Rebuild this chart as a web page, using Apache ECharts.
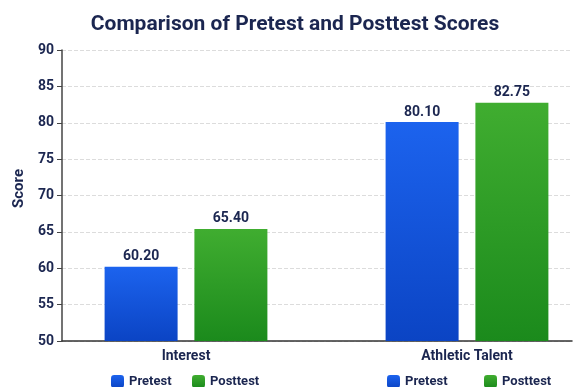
<!DOCTYPE html>
<html><head><meta charset="utf-8">
<script src="https://cdn.jsdelivr.net/npm/echarts@6/dist/echarts.min.js"></script>
<style>html,body{margin:0;padding:0;background:#fff}#c{width:574px;height:387px}</style>
</head><body><div id="c"></div>
<script>
var categories = ['Interest', 'Athletic Talent'];
var pretest = [60.20, 80.10];
var posttest = [65.40, 82.75];
var seriesNames = ['Pretest', 'Posttest'];
var yTicks = [50, 55, 60, 65, 70, 75, 80, 85, 90];

var navy = '#1b2650';
var font = 'Roboto, sans-serif';
function grad(top, bottom) {
  return new echarts.graphic.LinearGradient(0, 0, 0, 1, [{offset: 0, color: top}, {offset: 1, color: bottom}]);
}
var chart = echarts.init(document.getElementById('c'), null, {renderer: 'canvas'});
function leg(name, left) {
  return {
    data: [name], left: left, top: 370, itemWidth: 13, itemHeight: 13, itemGap: 0, icon: 'roundRect',
    selectedMode: false,
    textStyle: {color: navy, fontWeight: 'bold', fontSize: 13, fontFamily: font}
  };
}
var yMin = yTicks[0], yMax = yTicks[yTicks.length - 1];
chart.setOption({
  backgroundColor: '#fff',
  animation: false,
  title: {
    text: 'Comparison of Pretest and Posttest Scores', left: 290, top: 9, textAlign: 'center',
    textStyle: {color: navy, fontSize: 21, fontWeight: 'bold', fontFamily: font}
  },
  legend: [
    leg(seriesNames[0], 106), leg(seriesNames[1], 187),
    leg(seriesNames[0], 382), leg(seriesNames[1], 479)
  ],
  grid: [
    {left: 45.5, width: 562, top: 50, bottom: 46, outerBoundsMode: 'none', containLabel: false},
    {left: 62, right: 2, top: 50, bottom: 46, outerBoundsMode: 'none', containLabel: false}
  ],
  xAxis: [
    {
      type: 'category', data: categories, gridIndex: 0,
      axisLine: {show: false}, axisTick: {show: false},
      axisLabel: {color: navy, fontWeight: 'bold', fontSize: 14, fontFamily: font, margin: 8}
    },
    {
      type: 'value', gridIndex: 1, min: 0, max: 1,
      axisLine: {show: true, onZero: false, lineStyle: {color: '#333', width: 1.5}},
      axisTick: {show: false}, axisLabel: {show: false}, splitLine: {show: false}
    }
  ],
  yAxis: [
    {type: 'value', gridIndex: 0, min: yMin, max: yMax, interval: 5, show: false},
    {
      type: 'value', gridIndex: 1, min: yMin, max: yMax, interval: 5,
      name: 'Score', nameLocation: 'middle', nameGap: 35,
      nameTextStyle: {color: navy, fontWeight: 'bold', fontSize: 15, fontFamily: font, padding: [0, 0, 0, 14]},
      axisLine: {show: true, lineStyle: {color: '#444', width: 1.5}},
      axisTick: {show: true, length: 5, lineStyle: {color: '#444'}},
      axisLabel: {color: navy, fontWeight: 'bold', fontSize: 14, fontFamily: font, margin: 8},
      splitLine: {lineStyle: {color: '#dcdcdc', type: 'dashed'}}
    }
  ],
  series: [
    {
      name: seriesNames[0], type: 'bar', data: pretest, barWidth: 73, barGap: '23%',
      xAxisIndex: 0, yAxisIndex: 0,
      itemStyle: {color: grad('#1c63ee', '#0b44c4')},
      label: {show: true, position: 'top', distance: 3, formatter: function (p) { return p.value.toFixed(2); },
        color: navy, fontWeight: 'bold', fontSize: 14, fontFamily: font}
    },
    {
      name: seriesNames[1], type: 'bar', data: posttest, barWidth: 73,
      xAxisIndex: 0, yAxisIndex: 0,
      itemStyle: {color: grad('#40ad30', '#1b8a1c')},
      label: {show: true, position: 'top', distance: 3, formatter: function (p) { return p.value.toFixed(2); },
        color: navy, fontWeight: 'bold', fontSize: 14, fontFamily: font}
    }
  ]
});
</script></body></html>
